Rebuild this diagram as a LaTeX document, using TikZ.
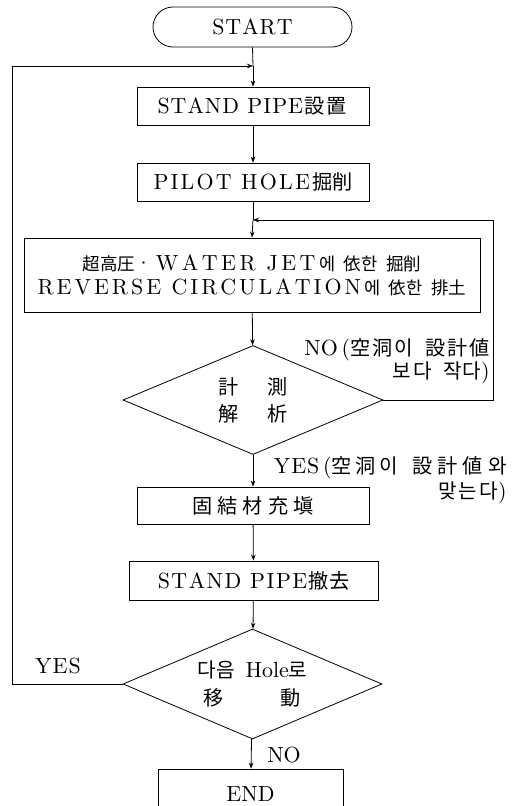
\documentclass[tikz,border=0pt]{standalone}
\usepackage{fontspec}
\setmainfont{lmroman10-regular.otf}
\newfontfamily\cjk[Scale=0.92]{Noto Sans CJK KR}
\newfontfamily\cjks[Scale=0.8]{Noto Sans CJK KR}
\usetikzlibrary{shapes.geometric,arrows.meta}
\newcommand\kj[1]{{\cjk #1}}
\newcommand\ks[1]{{\cjks #1}}
\makeatletter
\newcommand\spc[2]{\def\spc@k{#1}\spc@a#2\relax}
\def\spc@a#1{\ifx\relax#1\else#1\kern\spc@k\relax\expandafter\spc@a\fi}
\makeatother
\newcommand\txtsize[1]{\fontsize{22}{#1}\selectfont}
\begin{document}
\begin{tikzpicture}[x=1bp,y=-1bp,
  line width=0.8bp,
  every node/.style={font=\txtsize{26}},
  flow/.style={-{Stealth[length=6bp,width=4.5bp]}},
  proc/.style={draw, rectangle, inner sep=0, align=center},
  term/.style={draw, rectangle, rounded corners=20bp, inner sep=0},
  decide/.style={draw, diamond, aspect=2.4, inner sep=0, align=center},
  lbl/.style={inner sep=0, align=right}
]
\useasboundingbox (0,0) rectangle (525,806);
\clip (0,0) rectangle (525,806);
\fill[white] (0,0) rectangle (525,806);

% nodes
\node[term, minimum width=199bp, minimum height=40bp] (start) at (252.5,27) {\spc{1bp}{STAR}T};
\node[proc, minimum width=232bp, minimum height=38bp] (s1) at (253,106)
  {\spc{1bp}{STAND}\ \spc{1bp}{PIPE}\kj{\spc{2bp}{設置}}};
\node[proc, minimum width=232bp, minimum height=38bp] (s2) at (253,182)
  {\spc{2.2bp}{PILOT}\ \spc{2.2bp}{HOLE}\kj{掘削}};
\node[proc, minimum width=456bp, minimum height=74bp, font=\txtsize{24}] (s3) at (252,275)
  {\ks{超高圧}·\,\spc{3.5bp}{WATER}\ \spc{3.5bp}{JET}\ks{에\enspace 依한\enspace 掘削}\\
   \spc{3bp}{REVERSE}\ \spc{3bp}{CIRCULATION}\ks{에\enspace 依한\enspace 排土}};
\node[decide, minimum width=260bp, minimum height=109bp, font=\txtsize{27}] (d1) at (253,400)
  {\kj{計}\hspace{29bp}\kj{測}\\\kj{解}\hspace{29bp}\kj{析}};
\node[proc, minimum width=232bp, minimum height=37bp] (s4) at (253,505.5) {\kj{\spc{5bp}{固結材充}塡}};
\node[proc, minimum width=249bp, minimum height=39bp] (s5) at (253.5,580.5)
  {\spc{1.5bp}{STAND}\ \spc{1.5bp}{PIPE}\kj{撤去}};
\node[decide, minimum width=259bp, minimum height=110bp, font=\txtsize{28}] (d2) at (252.5,684)
  {\kj{다음}\enspace Hole\kj{로}\\\kj{移}\hspace{57bp}\kj{動}};
\node[proc, minimum width=185bp, minimum height=60bp, text depth=0pt] (e) at (250.5,799) {\raisebox{9bp}{END}};

% labels
\node[lbl, anchor=east, font=\txtsize{22}] (nolbl) at (490,361)
  {NO\,(\kj{\spc{2bp}{空洞이}\enspace \spc{2bp}{設計}値}\\\kj{\spc{2bp}{보다}\enspace 작다})};
\node[lbl, anchor=east, font=\txtsize{25}] (yeslbl) at (507,480)
  {\spc{1bp}{YE}S\,(\kj{\spc{4bp}{空洞이}\enspace \spc{5bp}{設計値}와}\\\kj{\spc{2bp}{맞는}다})};
\node[lbl] (yes2) at (58,666) {\spc{1bp}{YE}S};
\node[lbl] (no2) at (284,755) {NO};

% junctions and loop corners
\coordinate (j1) at (253,66);
\coordinate (j2) at (253,220);
\coordinate (L) at (12,0);
\coordinate (R) at (493,0);

% connectors
\draw (start.south) -- (j1);
\draw[flow] (j1) -- (s1.north);
\draw[flow] (s1) -- (s2);
\draw (s2.south) -- (j2);
\draw[flow] (j2) -- (s3.north);
\draw[flow] (s3) -- (d1);
\draw[flow] (d1) -- (s4);
\draw[flow] (s4) -- (s5);
\draw[flow] (s5) -- (d2);
\draw[flow] (d2) -- (e);
\draw[flow] (d1.east) -- (d1.east -| R) |- (j2);
\draw[flow] (d2.west) -- (d2.west -| L) |- (j1);
\end{tikzpicture}
\end{document}
